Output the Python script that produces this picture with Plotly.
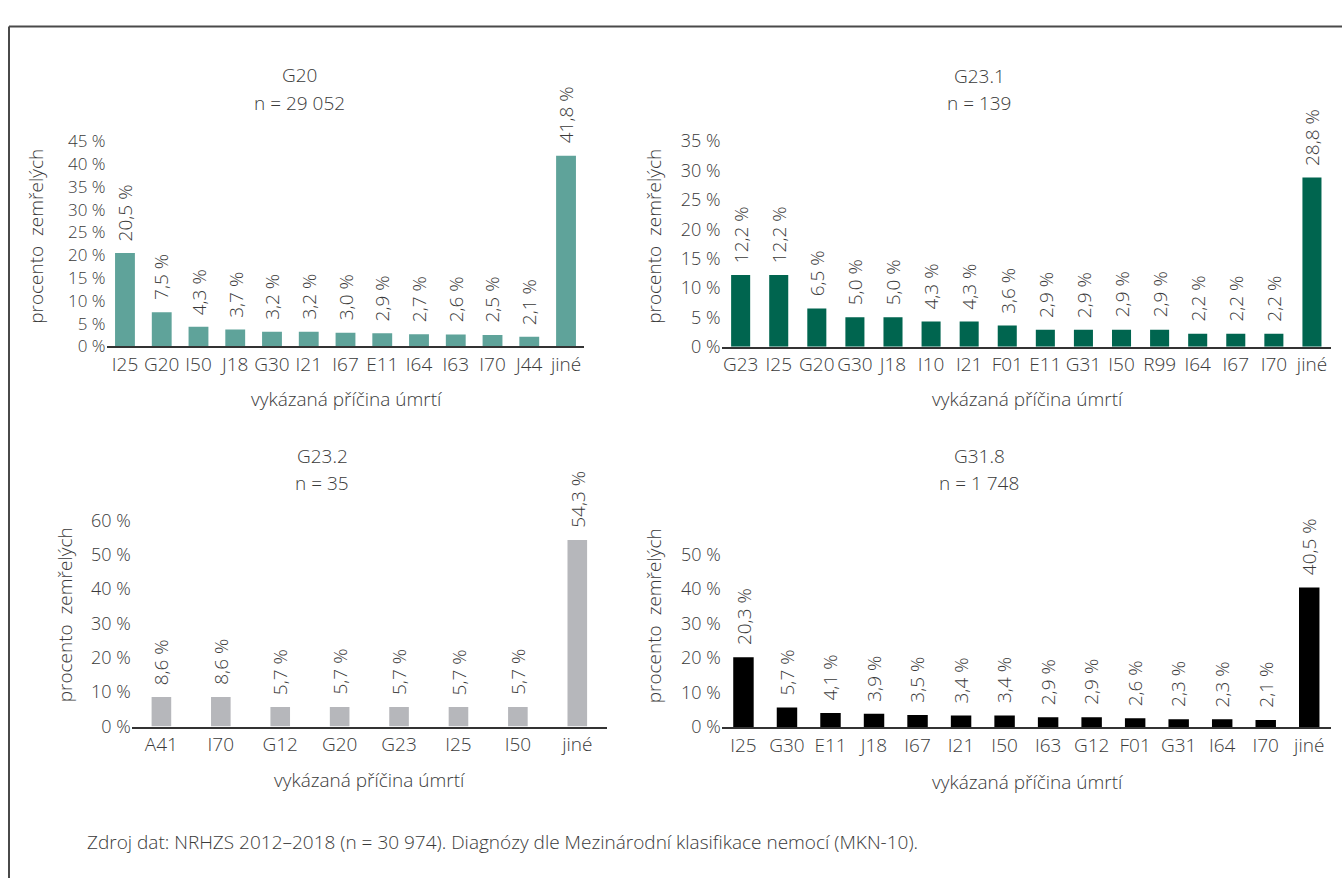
import plotly.graph_objects as go

W, H = 1342, 889

# ---- data ----
g20_cats = ["I25", "G20", "I50", "J18", "G30", "I21", "I67", "E11", "I64", "I63", "I70", "J44", "jiné"]
g20_vals = [20.5, 7.5, 4.3, 3.7, 3.2, 3.2, 3.0, 2.9, 2.7, 2.6, 2.5, 2.1, 41.8]

g231_cats = ["G23", "I25", "G20", "G30", "J18", "I10", "I21", "F01", "E11", "G31", "I50", "R99", "I64", "I67", "I70", "jiné"]
g231_vals = [12.2, 12.2, 6.5, 5.0, 5.0, 4.3, 4.3, 3.6, 2.9, 2.9, 2.9, 2.9, 2.2, 2.2, 2.2, 28.8]

g232_cats = ["A41", "I70", "G12", "G20", "G23", "I25", "I50", "jiné"]
g232_vals = [8.6, 8.6, 5.7, 5.7, 5.7, 5.7, 5.7, 54.3]

g318_cats = ["I25", "G30", "E11", "J18", "I67", "I21", "I50", "I63", "G12", "F01", "G31", "I64", "I70", "jiné"]
g318_vals = [20.3, 5.7, 4.1, 3.9, 3.5, 3.4, 3.4, 2.9, 2.9, 2.6, 2.3, 2.3, 2.1, 40.5]

panel_titles = ["G20", "G23.1", "G23.2", "G31.8"]
panel_n = ["n = 29 052", "n = 139", "n = 35", "n = 1 748"]
y_ticks = [[0, 5, 10, 15, 20, 25, 30, 35, 40, 45],
           [0, 5, 10, 15, 20, 25, 30, 35],
           [0, 10, 20, 30, 40, 50, 60],
           [0, 10, 20, 30, 40, 50]]
y_ranges = [[0, 45], [0, 35], [0, 60], [0, 50]]

x_title = "vykázaná příčina úmrtí"
y_title = "procento\u00a0 zemřelých"
footer = "Zdroj dat: NRHZS 2012–2018 (n = 30 974). Diagnózy dle Mezinárodní klasifikace nemocí (MKN-10)."

# ---- style / layout (pixel boxes: x0, x1, ybottom, ytop) ----
colors = ["#5fa39a", "#00654f", "#b6b7bb", "#000000"]
bar_widths = [0.54, 0.5, 0.33, 0.47]
boxes = [(106.6, 584.4, 342.7, 131.7),
         (721.6, 1331.0, 343.0, 131.7),
         (131.7, 607.0, 733.3, 521.5),
         (721.7, 1331.0, 734.0, 556.7)]
ytick_sizes = [17, 18, 18, 18]
title_pos = [(299, 64, 93), (979, 65, 93), (322, 455, 483), (979, 455, 483)]
ytitle_pos = [(36, 230), (654, 230), (65, 619), (654, 620)]
xtitle_pos = [(346, 397), (1027, 397), (370, 788), (1027, 790)]

FONT = "Open Sans, Lato, sans-serif"
TXT = "#3a3a3a"

cats_all = [g20_cats, g231_cats, g232_cats, g318_cats]
vals_all = [g20_vals, g231_vals, g232_vals, g318_vals]

fig = go.Figure()
annotations = []
for i in range(4):
    ax = "" if i == 0 else str(i + 1)
    fig.add_trace(go.Bar(
        x=cats_all[i], y=vals_all[i], width=bar_widths[i],
        marker=dict(color=colors[i], line=dict(width=0)),
        xaxis="x" + ax, yaxis="y" + ax, showlegend=False, hoverinfo="x+y",
    ))
    x0, x1, yb, yt = boxes[i]
    fig.layout["xaxis" + ax] = dict(
        domain=[x0 / W, x1 / W], anchor="y" + ax, type="category",
        showline=True, linecolor="#333333", linewidth=1.5, ticks="",
        showgrid=False, zeroline=False, tickangle=0, fixedrange=True,
        tickfont=dict(family=FONT, size=19, color=TXT, weight=300),
    )
    fig.layout["yaxis" + ax] = dict(
        domain=[1 - yb / H, 1 - yt / H], anchor="x" + ax, range=y_ranges[i],
        tickvals=y_ticks[i], ticktext=[f"{v} %" for v in y_ticks[i]],
        showline=False, showgrid=False, zeroline=False, ticks="", fixedrange=True,
        tickfont=dict(family=FONT, size=ytick_sizes[i], color=TXT, weight=300),
    )
    # data labels
    for c, v in zip(cats_all[i], vals_all[i]):
        annotations.append(dict(
            x=c, y=v, xref="x" + ax, yref="y" + ax, showarrow=False,
            text=f"{v:.1f}".replace(".", ",") + " %", textangle=-90,
            xanchor="center", yanchor="bottom", yshift=10,
            font=dict(family=FONT, size=19, color=TXT, weight=300),
        ))
    tx, ty1, ty2 = title_pos[i]
    for t, ty in ((panel_titles[i], ty1), (panel_n[i], ty2)):
        annotations.append(dict(
            x=tx / W, y=1 - ty / H, xref="paper", yref="paper", showarrow=False,
            text=t, xanchor="center", yanchor="middle",
            font=dict(family=FONT, size=19, color=TXT, weight=300),
        ))
    yx, yy = ytitle_pos[i]
    annotations.append(dict(
        x=yx / W, y=1 - yy / H, xref="paper", yref="paper", showarrow=False,
        text=y_title, textangle=-90, xanchor="center", yanchor="middle",
        font=dict(family=FONT, size=19, color=TXT, weight=300),
    ))
    xx, xy = xtitle_pos[i]
    annotations.append(dict(
        x=xx / W, y=1 - xy / H, xref="paper", yref="paper", showarrow=False,
        text=x_title, xanchor="center", yanchor="middle",
        font=dict(family=FONT, size=19, color=TXT, weight=300),
    ))

annotations.append(dict(
    x=85 / W, y=1 - 852 / H, xref="paper", yref="paper", showarrow=False,
    text=footer, xanchor="left", yanchor="middle",
    font=dict(family=FONT, size=19, color=TXT, weight=300),
))

shapes = [
    dict(type="line", xref="paper", yref="paper", x0=9 / W, x1=1, y0=1 - 14 / H, y1=1 - 14 / H,
         line=dict(color="#4a4a4a", width=2)),
    dict(type="line", xref="paper", yref="paper", x0=9 / W, x1=9 / W, y0=0, y1=1 - 14 / H,
         line=dict(color="#4a4a4a", width=2)),
]

fig.update_layout(
    width=W, height=H, margin=dict(l=0, r=0, t=0, b=0),
    paper_bgcolor="white", plot_bgcolor="white",
    annotations=annotations, shapes=shapes,
    font=dict(family=FONT, color=TXT),
)

fig.write_html("out.html", config={"displayModeBar": False},
               post_script="document.body.style.margin='0px';")
